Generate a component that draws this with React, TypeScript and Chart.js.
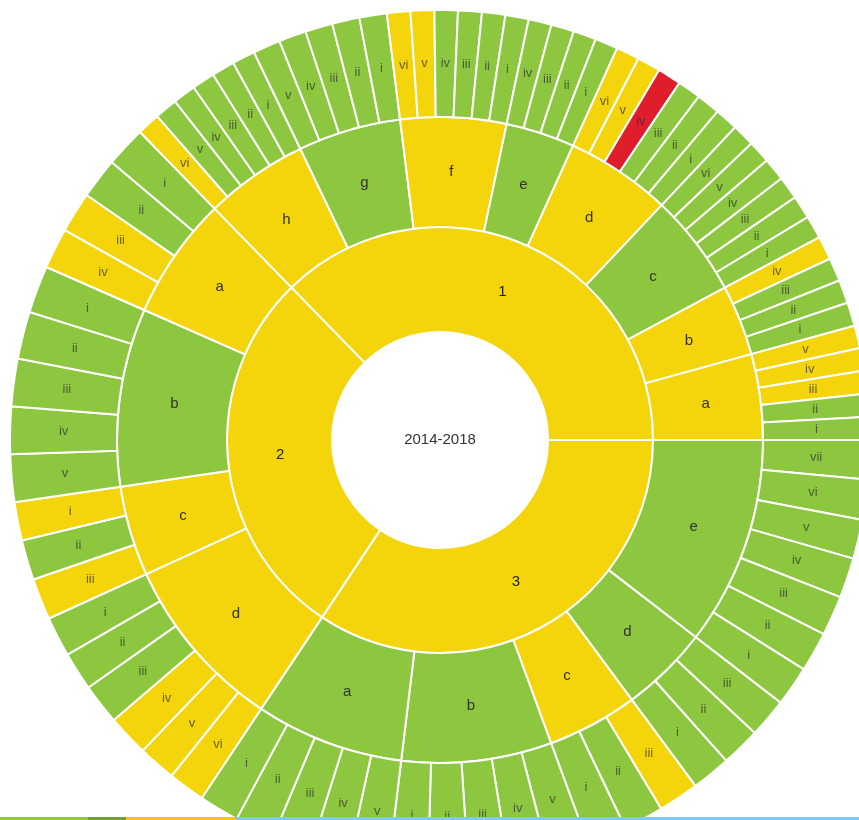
import React, { useEffect, useRef } from 'react';
import { Chart, ArcElement, DoughnutController } from 'chart.js';

Chart.register(ArcElement, DoughnutController);

// ---------- data ----------
const centerLabel = '2014-2018';
const topCats = ['1', '2', '3'];
const topStatus = ['Y', 'Y', 'Y'];

const midCats1 = ['a', 'b', 'c', 'd', 'e', 'f', 'g', 'h'];
const midStatus1 = ['Y', 'Y', 'G', 'Y', 'G', 'Y', 'G', 'Y'];
const midCats2 = ['a', 'b', 'c', 'd'];
const midStatus2 = ['Y', 'G', 'Y', 'Y'];
const midCats3 = ['a', 'b', 'c', 'd', 'e'];
const midStatus3 = ['G', 'G', 'Y', 'G', 'G'];

const leafNames = ['i', 'ii', 'iii', 'iv', 'v', 'vi', 'vii'];

const leaves1a = [3.1, 3.1, 3.1, 3.05, 3.05];
const status1a = ['G', 'G', 'Y', 'Y', 'Y'];
const leaves1b = [3.2, 3.15, 3.15, 3.2];
const status1b = ['G', 'G', 'G', 'Y'];
const leaves1c = [3.1, 3.1, 3.1, 3.1, 3.05, 3.05];
const status1c = ['G', 'G', 'G', 'G', 'G', 'G'];
const leaves1d = [3.15, 3.2, 3.15, 3.2, 3.15, 3.15];
const status1d = ['G', 'G', 'G', 'R', 'Y', 'Y'];
const leaves1e = [3.1, 3.1, 3.1, 3.1];
const status1e = ['G', 'G', 'G', 'G'];
const leaves1f = [3.15, 3.15, 3.2, 3.15, 3.2, 3.15];
const status1f = ['G', 'G', 'G', 'G', 'Y', 'Y'];
const leaves1g = [3.7, 3.7, 3.7, 3.7, 3.7];
const status1g = ['G', 'G', 'G', 'G', 'G'];
const leaves1h = [3.1, 3.1, 3.1, 3.1, 3.1, 3.1];
const status1h = ['G', 'G', 'G', 'G', 'G', 'Y'];

const leaves2a = [5.5, 5.5, 5.5, 5.5];
const status2a = ['G', 'G', 'Y', 'Y'];
const leaves2b = [6.4, 6.4, 6.4, 6.4, 6.4];
const status2b = ['G', 'G', 'G', 'G', 'G'];
const leaves2c = [5.2, 5.4, 5.6];
const status2c = ['Y', 'G', 'Y'];
const leaves2d = [5.4, 5.2, 5.5, 5.6, 5.1, 5.0];
const status2d = ['G', 'G', 'G', 'Y', 'Y', 'Y'];

const leaves3a = [5.4, 5.4, 5.3, 5.2, 5.4];
const status3a = ['G', 'G', 'G', 'G', 'G'];
const leaves3b = [5.3, 5.4, 5.4, 5.4, 5.5];
const status3b = ['G', 'G', 'G', 'G', 'G'];
const leaves3c = [5.4, 5.4, 5.5];
const status3c = ['G', 'G', 'Y'];
const leaves3d = [5.3, 5.3, 5.3];
const status3d = ['G', 'G', 'G'];
const leaves3e = [5.4, 5.4, 5.4, 5.4, 5.3, 5.4, 5.3];
const status3e = ['G', 'G', 'G', 'G', 'G', 'G', 'G'];

// ---------- styles ----------
const COLORS: Record<string, string> = { G: '#8dc63f', Y: '#f4d50b', R: '#e01e2b' };

const groups = [
  { cats: midCats1, status: midStatus1, leaves: [leaves1a, leaves1b, leaves1c, leaves1d, leaves1e, leaves1f, leaves1g, leaves1h], leafStatus: [status1a, status1b, status1c, status1d, status1e, status1f, status1g, status1h] },
  { cats: midCats2, status: midStatus2, leaves: [leaves2a, leaves2b, leaves2c, leaves2d], leafStatus: [status2a, status2b, status2c, status2d] },
  { cats: midCats3, status: midStatus3, leaves: [leaves3a, leaves3b, leaves3c, leaves3d, leaves3e], leafStatus: [status3a, status3b, status3c, status3d, status3e] },
];

function buildRings() {
  const leaf = { data: [] as number[], colors: [] as string[], names: [] as string[] };
  const mid = { data: [] as number[], colors: [] as string[], names: [] as string[] };
  const top = { data: [] as number[], colors: [] as string[], names: [] as string[] };
  groups.forEach((g, t) => {
    let tsum = 0;
    g.cats.forEach((c, m) => {
      let msum = 0;
      g.leaves[m].forEach((v, k) => {
        leaf.data.push(v);
        leaf.colors.push(COLORS[g.leafStatus[m][k]]);
        leaf.names.push(leafNames[k]);
        msum += v;
      });
      mid.data.push(msum);
      mid.colors.push(COLORS[g.status[m]]);
      mid.names.push(c);
      tsum += msum;
    });
    top.data.push(tsum);
    top.colors.push(COLORS[topStatus[t]]);
    top.names.push(topCats[t]);
  });
  // sunburst runs counter-clockwise from 3 o'clock; Chart.js draws clockwise
  [leaf, mid, top].forEach((r) => {
    r.data.reverse();
    r.colors.reverse();
    r.names.reverse();
  });
  return { leaf, mid, top };
}

const labelPlugin = {
  id: 'sunburstLabels',
  afterDatasetsDraw(chart: any) {
    const ctx = chart.ctx;
    ctx.save();
    ctx.textAlign = 'center';
    ctx.textBaseline = 'middle';
    chart.data.datasets.forEach((ds: any, i: number) => {
      const meta = chart.getDatasetMeta(i);
      ctx.font = ds.labelFont;
      ctx.fillStyle = ds.labelColor;
      meta.data.forEach((arc: any, j: number) => {
        const p = arc.tooltipPosition(false);
        ctx.fillText(ds.names[j], p.x, p.y);
      });
    });
    const a = chart.chartArea;
    ctx.font = '15px "Liberation Sans", Arial, sans-serif';
    ctx.fillStyle = '#333';
    ctx.fillText(centerLabel, (a.left + a.right) / 2, (a.top + a.bottom) / 2);
    ctx.restore();
  },
};

export default function App() {
  const ref = useRef<HTMLCanvasElement | null>(null);
  useEffect(() => {
    if (!ref.current) return;
    const { leaf, mid, top } = buildRings();
    const chart = new Chart(ref.current, {
      type: 'doughnut',
      data: {
        labels: leaf.names,
        datasets: [
          {
            data: leaf.data,
            backgroundColor: leaf.colors,
            weight: 107,
            names: leaf.names,
            labelFont: '13px "Liberation Sans", Arial, sans-serif',
            labelColor: 'rgba(50,50,50,0.72)',
          } as any,
          {
            data: mid.data,
            backgroundColor: mid.colors,
            weight: 110,
            names: mid.names,
            labelFont: '15px "Liberation Sans", Arial, sans-serif',
            labelColor: '#333',
          } as any,
          {
            data: top.data,
            backgroundColor: top.colors,
            weight: 105,
            names: top.names,
            labelFont: '15px "Liberation Sans", Arial, sans-serif',
            labelColor: '#222',
          } as any,
        ],
      },
      options: {
        responsive: false,
        animation: false,
        devicePixelRatio: 1,
        rotation: 90,
        cutout: 108,
        events: [],
        layout: { padding: 9 },
        borderColor: '#ffffff',
        borderWidth: 2,
        plugins: { legend: { display: false }, tooltip: { enabled: false } },
      } as any,
      plugins: [labelPlugin],
    });
    return () => chart.destroy();
  }, []);

  return (
    <div style={{ position: 'fixed', left: 0, top: 0, width: 859, height: 820, overflow: 'hidden', background: '#fff' }}>
      <canvas ref={ref} width={880} height={880} style={{ position: 'absolute', left: 0, top: 0, width: 880, height: 880 }} />
      <div style={{ position: 'absolute', left: 0, top: 817, width: 88, height: 3, background: '#8dc63f' }} />
      <div style={{ position: 'absolute', left: 88, top: 817, width: 38, height: 3, background: '#6f9f36' }} />
      <div style={{ position: 'absolute', left: 126, top: 817, width: 110, height: 3, background: '#f6c31a' }} />
      <div style={{ position: 'absolute', left: 236, top: 817, width: 623, height: 3, background: '#80c8ee' }} />
    </div>
  );
}
